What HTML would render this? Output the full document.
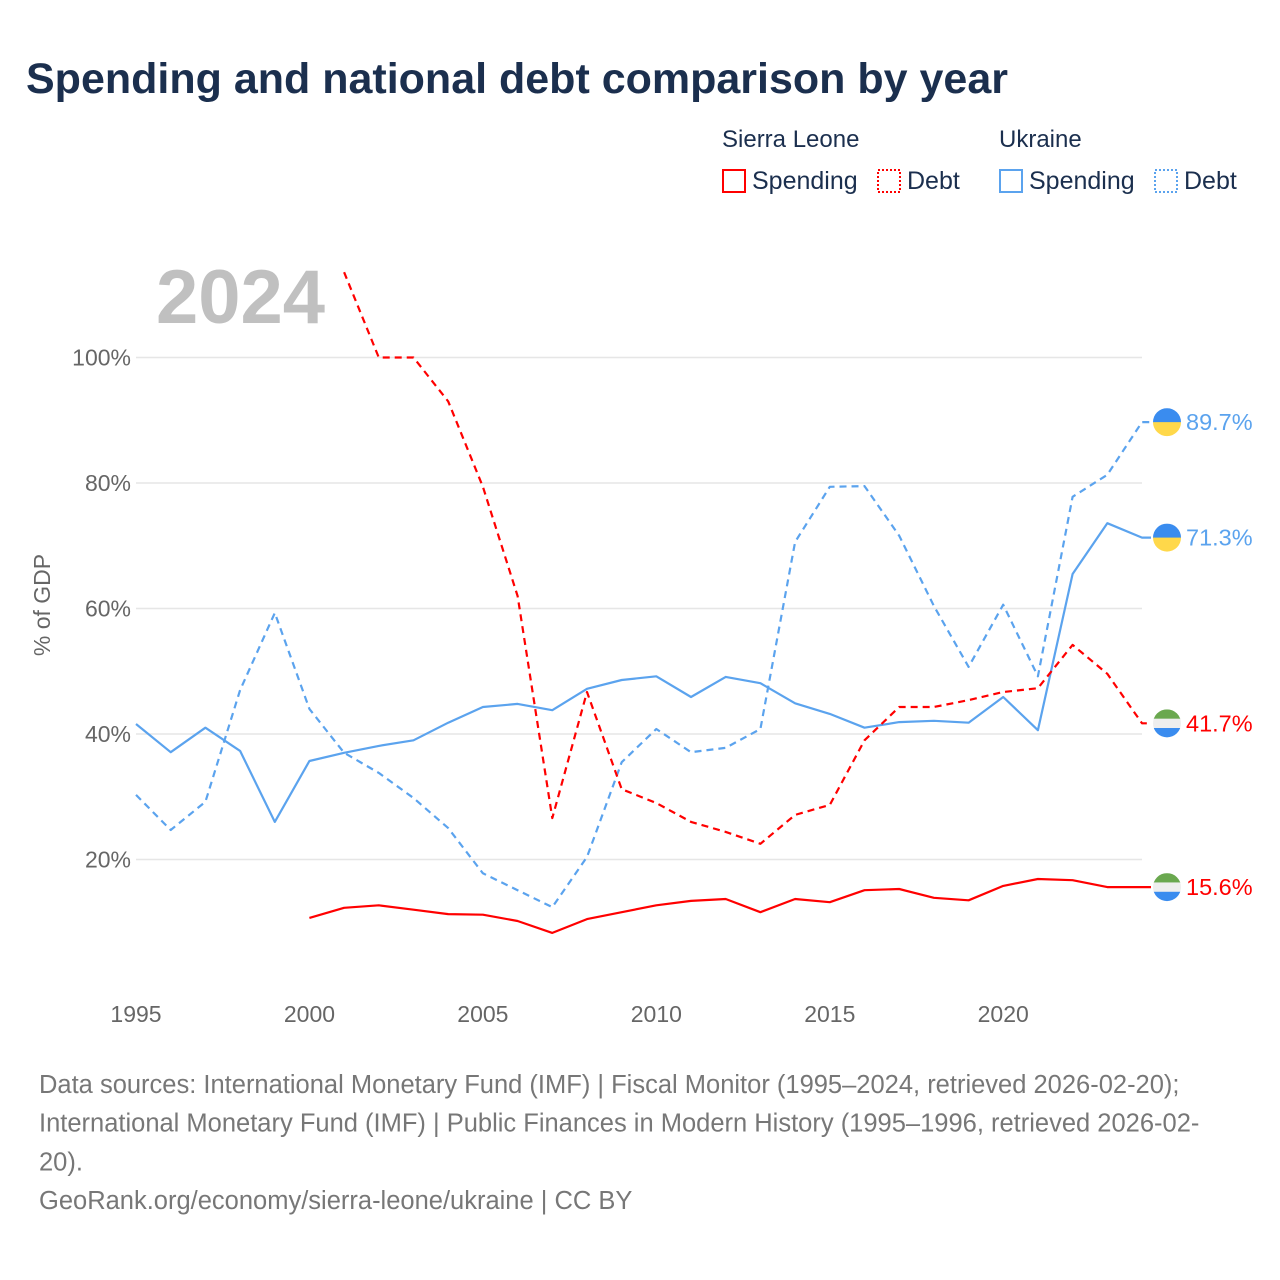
<!DOCTYPE html>
<html><head><meta charset="utf-8">
<style>
body{margin:0;background:#fff;font-family:"Liberation Sans",sans-serif;}
#wrap{position:relative;width:1280px;height:1280px;overflow:hidden;}
</style></head>
<body>
<div id="wrap">
<svg id="chart" width="1280" height="1280" style="position:absolute;left:0;top:0"></svg>
</div>
<script>
const years=[1995,1996,1997,1998,1999,2000,2001,2002,2003,2004,2005,2006,2007,2008,2009,2010,2011,2012,2013,2014,2015,2016,2017,2018,2019,2020,2021,2022,2023,2024];
const uaSpending=[41.6,37.1,41.0,37.3,26.0,35.7,37.0,38.1,39.0,41.8,44.3,44.8,43.8,47.2,48.6,49.2,45.9,49.1,48.1,44.9,43.2,41.0,41.9,42.1,41.8,45.9,40.6,65.5,73.6,71.3];
const uaDebt=[30.3,24.7,29.2,47.0,59.3,44.0,37.0,33.8,29.8,25.0,17.8,15.1,12.4,20.4,35.5,40.8,37.1,37.8,40.8,70.6,79.4,79.5,71.6,60.4,50.7,60.6,49.2,77.8,81.3,89.7];
const slSpending=[null,null,null,null,null,10.7,12.3,12.7,12.0,11.3,11.2,10.2,8.3,10.5,11.6,12.7,13.4,13.7,11.6,13.7,13.2,15.1,15.3,13.9,13.5,15.8,16.9,16.7,15.6,15.6];
const slDebt=[null,null,null,null,null,null,113.6,100,100,93,79.4,62,26.6,46.7,31.2,29,26,24.4,22.5,27.1,28.7,39,44.3,44.3,45.4,46.7,47.3,54.2,49.6,41.7];
const yTicks=[20,40,60,80,100];
const xTicks=[1995,2000,2005,2010,2015,2020];

const NS="http://www.w3.org/2000/svg";
const svg=document.getElementById('chart');
const X=y=>136+(y-1995)*(1142-136)/29;
const Y=v=>985-v*6.275;
function mk(tag,attrs,parent){const e=document.createElementNS(NS,tag);for(const k in attrs)e.setAttribute(k,attrs[k]);(parent||svg).appendChild(e);return e;}
function txt(s,attrs){const e=mk('text',attrs);e.textContent=s;return e;}

let t=txt('Spending and national debt comparison by year',{x:26,y:93,'font-size':43,'font-weight':'bold',fill:'#1b2f4e'});



const leg=[
 {x:722,head:'Sierra Leone',items:[['Spending','#ff0000',null,722],['Debt','#ff0000','2,2',877]]},
 {x:999,head:'Ukraine',items:[['Spending','#5ba3ee',null,999],['Debt','#5ba3ee','2,2',1154]]}];
leg.forEach(g=>{
 let h=txt(g.head,{x:g.x,y:147,'font-size':24,fill:'#1b2f4e'});
 
 
 g.items.forEach(it=>{
  const gg=mk('g',{});
  
  
  const r=mk('rect',{x:it[3]+1,y:170,width:22,height:22,fill:'none',stroke:it[1],'stroke-width':2},gg);
  if(it[2])r.setAttribute('stroke-dasharray',it[2]);
  const tt=mk('text',{x:it[3]+30,y:189,'font-size':25,fill:'#1b2f4e'},gg);tt.textContent=it[0];
 });
});

t=txt('2024',{x:156,y:323,'font-size':76,'font-weight':'bold',fill:'#c0c0c0'});



yTicks.forEach(v=>{
 const l=mk('line',{x1:136,x2:1142,y1:Y(v),y2:Y(v),stroke:'#e6e6e6','stroke-width':1.5});
 
 
 const tl=txt(v+'%',{x:131,y:Y(v)+8,'font-size':23,fill:'#666','text-anchor':'end'});
 
 
});
xTicks.forEach(v=>{
 const tl=txt(String(v),{x:X(v),y:1022,'font-size':23,fill:'#666','text-anchor':'middle'});
 
 
});
t=txt('% of GDP',{x:0,y:0,'font-size':23,fill:'#666','text-anchor':'middle',transform:'translate(50,605) rotate(-90)'});



function series(vals,color,dash,name){
 let d='';let pen=false;
 vals.forEach((v,i)=>{if(v==null){pen=false;return;}d+=(pen?'L':'M')+X(years[i]).toFixed(1)+','+Y(v).toFixed(1);pen=true;});
 d+='L'+(X(years[years.length-1])+9).toFixed(1)+','+Y(vals[vals.length-1]).toFixed(1);
 const p=mk('path',{d:d,fill:'none',stroke:color,'stroke-width':2.2,'stroke-linejoin':'round'});
 if(dash)p.setAttribute('stroke-dasharray',dash);
 
 
}
series(uaDebt,'#5ba3ee','7,5','ukraine-debt-line');
series(uaSpending,'#5ba3ee',null,'ukraine-spending-line');
series(slDebt,'#ff0000','7,5','sierra-leone-debt-line');
series(slSpending,'#ff0000',null,'sierra-leone-spending-line');

function flag(v,cols,name,label,color){
 const cx=1167,cy=Y(v),r=14;
 const g=mk('g',{});
 
 
 const cid='c'+name;
 const cp=mk('clipPath',{id:cid},g);mk('circle',{cx:cx,cy:cy,r:r},cp);
 const n=cols.length;
 cols.forEach((c,i)=>mk('rect',{x:cx-r,y:cy-r+i*2*r/n,width:2*r,height:2*r/n+0.5,fill:c,'clip-path':'url(#'+cid+')'},g));
 const tt=mk('text',{x:1186,y:cy+8,'font-size':23.5,fill:color},g);tt.textContent=label;
}
flag(uaDebt[29],['#3a8cef','#ffd84a'],'ukraine-debt-end-label',uaDebt[29].toFixed(1)+'%','#5ba3ee');
flag(uaSpending[29],['#3a8cef','#ffd84a'],'ukraine-spending-end-label',uaSpending[29].toFixed(1)+'%','#5ba3ee');
flag(slDebt[29],['#6aa84f','#eeeeee','#3a8cef'],'sierra-leone-debt-end-label',slDebt[29].toFixed(1)+'%','#ff0000');
flag(slSpending[29],['#6aa84f','#eeeeee','#3a8cef'],'sierra-leone-spending-end-label',slSpending[29].toFixed(1)+'%','#ff0000');

const foot=['Data sources: International Monetary Fund (IMF) | Fiscal Monitor (1995–2024, retrieved 2026-02-20);','International Monetary Fund (IMF) | Public Finances in Modern History (1995–1996, retrieved 2026-02-','20).','GeoRank.org/economy/sierra-leone/ukraine | CC BY'];
foot.forEach((s,i)=>{
 const f=txt(s,{x:39,y:1093+i*38.7,'font-size':25.5,fill:'#777'});
 
 
});
</script>
</body></html>
